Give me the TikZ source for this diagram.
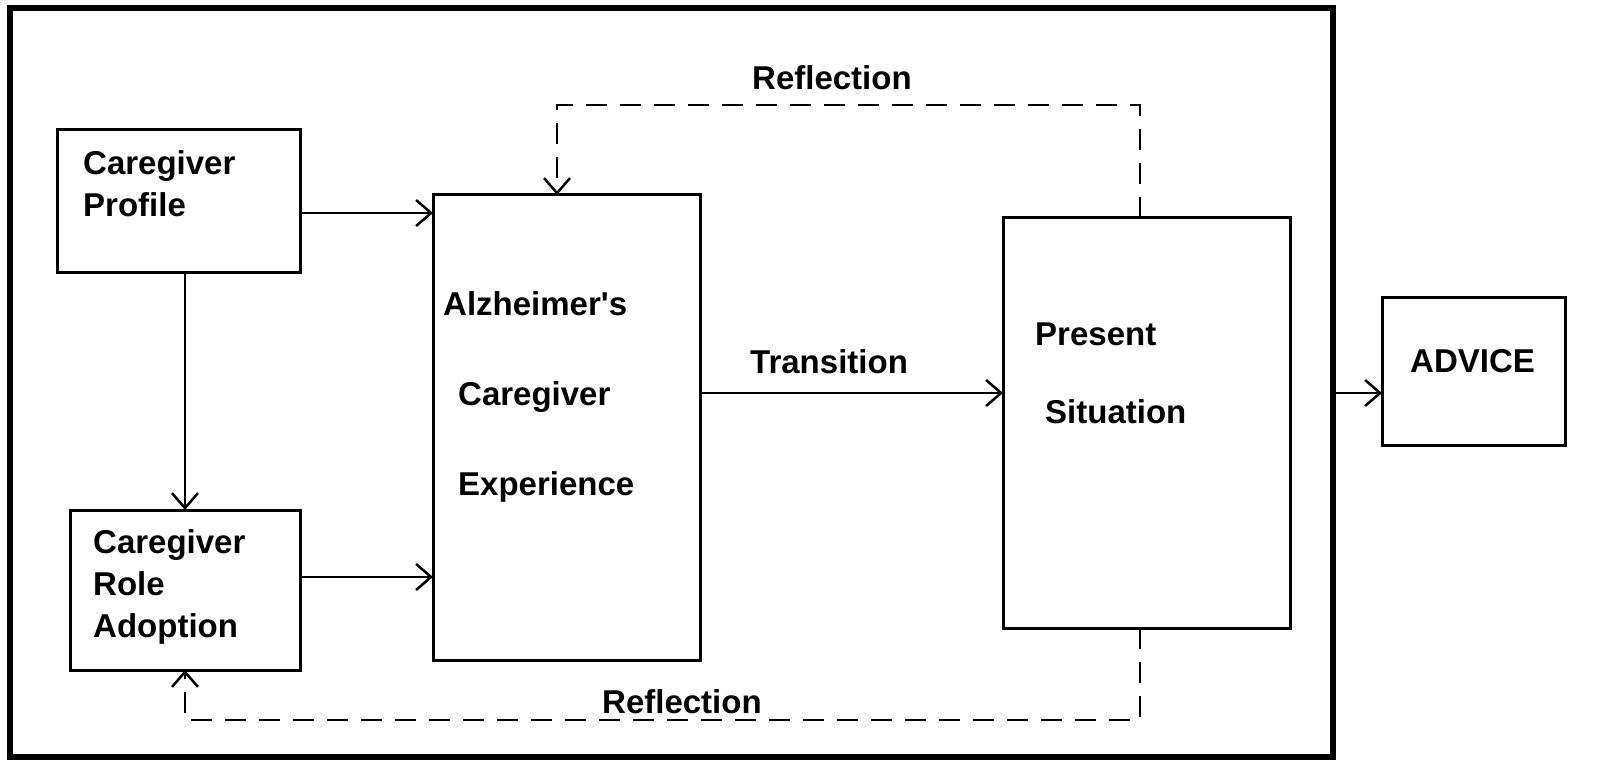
\documentclass[tikz,border=0pt]{standalone}
\usepackage{fontspec}
\setmainfont{Liberation Sans}
\usetikzlibrary{arrows.meta}
\begin{document}
\begin{tikzpicture}[x=1pt,y=-1pt,
  box/.style={draw,line width=3pt,inner sep=0pt,outer sep=0pt,rectangle},
  lbl/.style={anchor=base west,inner sep=0pt,font=\fontsize{33}{40}\selectfont\bfseries},
  conn/.style={line width=2pt,-{Straight Barb[length=15pt,width=26pt,line width=2.5pt]}},
  refl/.style={conn,line width=2.5pt,dash pattern=on 21pt off 13pt}]
\useasboundingbox (0,0) rectangle (1612,778);
\node[draw,line width=6pt,minimum width=1323pt,minimum height=749pt,inner sep=0pt,outer sep=0pt] (frame) at (671.5,382.5) {};
\node[box,minimum width=243pt,minimum height=142pt] (prof) at (178.5,201) {};
\node[box,minimum width=230pt,minimum height=160pt] (role) at (185,590) {};
\node[box,minimum width=267pt,minimum height=465pt] (alz) at (566.5,427.5) {};
\node[box,minimum width=287pt,minimum height=410pt] (pres) at (1146.5,423) {};
\node[box,minimum width=183pt,minimum height=148pt] (adv) at (1473.5,371) {};
% texts
\node[lbl] (t1) at (83,175) {Caregiver};
\node[lbl] (t2) at (83,217) {Profile};
\node[lbl] (t3) at (93,553) {Caregiver};
\node[lbl] (t4) at (93,595) {Role};
\node[lbl] (t5) at (93,637) {Adoption};
\node[lbl] (t6) at (443,315) {Alzheimer\textquotesingle s};
\node[lbl] (t7) at (458,405) {Caregiver};
\node[lbl] (t8) at (458,495) {Experience};
\node[lbl] (t9) at (1035,345) {Present};
\node[lbl] (t10) at (1045,423) {Situation};
\node[lbl] (t11) at (1410,372) {ADVICE};
\node[lbl] (t12) at (750,373) {Transition};
\node[lbl] (t13) at (752,90) {Reflection};
\node[lbl] (t14) at (602,713) {Reflection};
% coordinates
\coordinate (y1) at (0,213);
\coordinate (y2) at (0,577);
\coordinate (y3) at (0,393);
\coordinate (tr) at (1140,105);
\coordinate (tl) at (557,105);
\coordinate (br) at (1140,720);
\coordinate (bl) at (185,720);
% connectors
\draw[conn] (prof.east |- y1) -- (alz.west |- y1);
\draw[conn] (role.east |- y2) -- (alz.west |- y2);
\draw[conn] (role.north |- prof.south) -- (role.north);
\draw[conn] (alz.east |- y3) -- (pres.west |- y3);
\draw[conn] (frame.east |- y3) -- (adv.west |- y3);
\draw[refl] (pres.north -| tr) -- (tr) -- (tl) -- (alz.north -| tl);
\draw[refl] (pres.south -| br) -- (br) -- (bl) -- (role.south -| bl);
\end{tikzpicture}
\end{document}
